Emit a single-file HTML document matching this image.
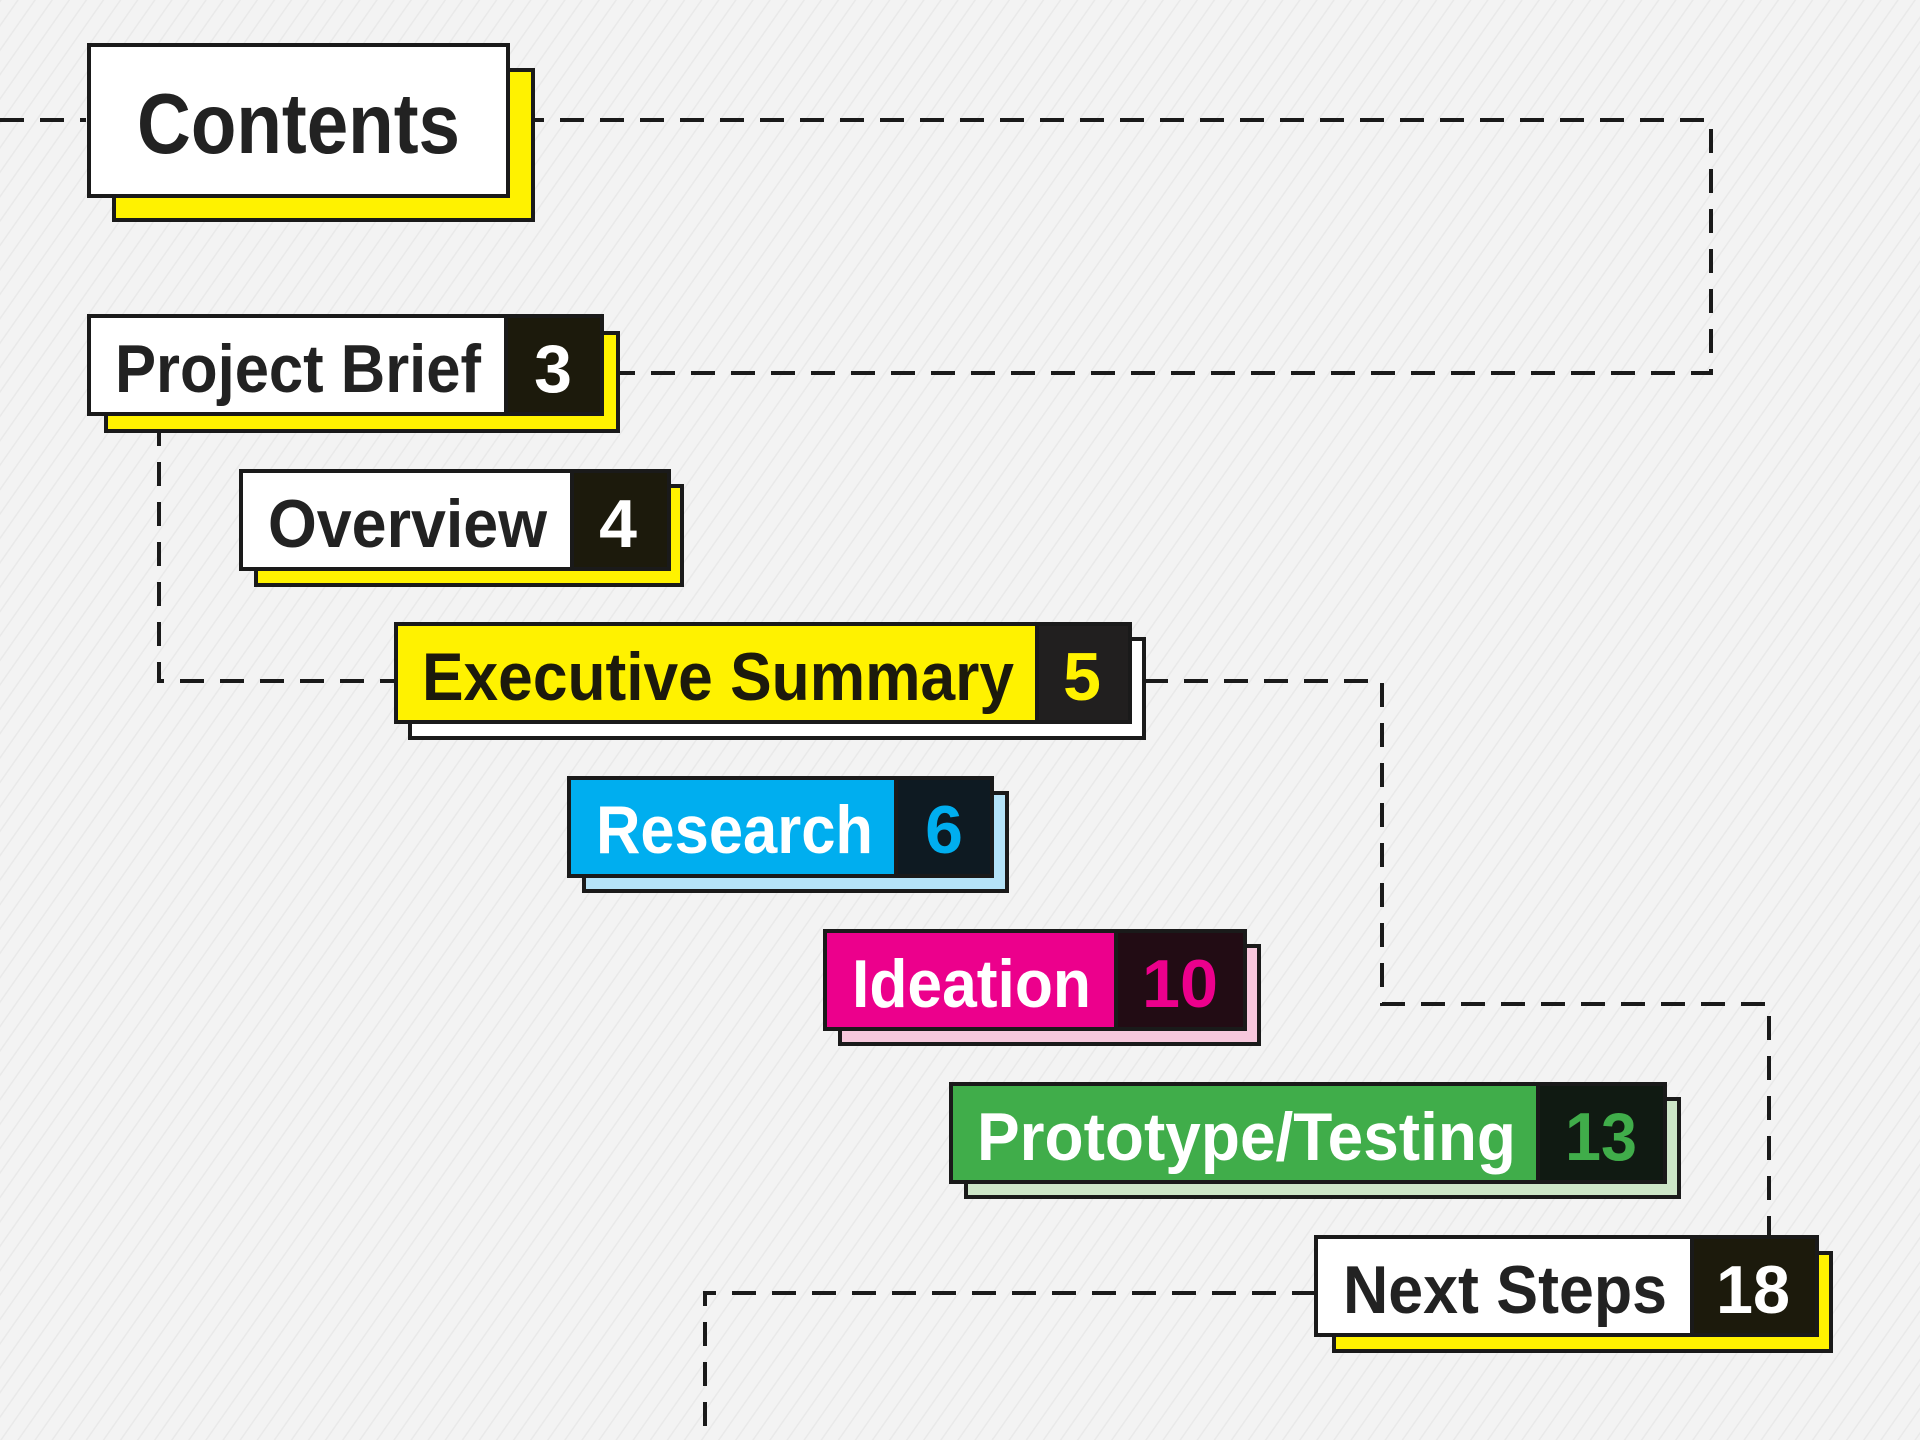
<!DOCTYPE html>
<html><head><meta charset="utf-8"><style>
html,body{margin:0;padding:0;width:1920px;height:1440px;overflow:hidden;background:#f3f3f3;}
svg{display:block}
text{font-family:"Liberation Sans",Arial,sans-serif;font-weight:bold;}
</style></head><body>
<svg width="1920" height="1440" viewBox="0 0 1920 1440" xmlns="http://www.w3.org/2000/svg">
<defs>
<pattern id="st" width="14" height="14" patternUnits="userSpaceOnUse" patternTransform="rotate(35)">
<rect width="14" height="14" fill="#f3f3f3"/><rect width="1.5" height="14" fill="#e9e9e9"/>
</pattern>
</defs>
<rect width="1920" height="1440" fill="url(#st)"/>
<g fill="none" stroke="#1a1a1a" stroke-width="4" stroke-dasharray="24 16">
<path d="M0 120 H86"/>
<path d="M520 120 H1711 V373 H618"/>
<path d="M159 422 V681 H396"/>
<path d="M1144 681 H1382 V1004 H1769 V1237"/>
<path d="M1316 1293 H705 V1440"/>
</g>
<g stroke="#1a1a1a" stroke-width="4">
<!-- Contents -->
<rect x="114" y="70" width="419" height="150" fill="#fff200"/>
<rect x="89" y="45" width="419" height="151" fill="#fff"/>
<!-- Project Brief -->
<rect x="106" y="333" width="512" height="98" fill="#fff200"/>
<rect x="89" y="316" width="513" height="98" fill="#fff"/>
<rect x="506" y="316" width="96" height="98" fill="#1c1a0c"/>
<!-- Overview -->
<rect x="256" y="486" width="426" height="99" fill="#fff200"/>
<rect x="241" y="471" width="428" height="98" fill="#fff"/>
<rect x="572" y="471" width="97" height="98" fill="#1c1a0c"/>
<!-- Exec -->
<rect x="410" y="639" width="734" height="99" fill="#fff"/>
<rect x="396" y="624" width="734" height="98" fill="#fff200"/>
<rect x="1037" y="624" width="93" height="98" fill="#211f1f"/>
<!-- Research -->
<rect x="584" y="793" width="423" height="98" fill="#b5e3f8"/>
<rect x="569" y="778" width="423" height="98" fill="#00aeef"/>
<rect x="896" y="778" width="96" height="98" fill="#0e1a22"/>
<!-- Ideation -->
<rect x="840" y="946" width="419" height="98" fill="#f7c8dd"/>
<rect x="825" y="931" width="420" height="98" fill="#ec008c"/>
<rect x="1116" y="931" width="129" height="98" fill="#220c14"/>
<!-- Prototype -->
<rect x="966" y="1099" width="713" height="98" fill="#cde6c8"/>
<rect x="951" y="1084" width="714" height="98" fill="#40ad4a"/>
<rect x="1538" y="1084" width="127" height="98" fill="#101a12"/>
<!-- Next Steps -->
<rect x="1334" y="1253" width="497" height="98" fill="#fff200"/>
<rect x="1316" y="1237" width="501" height="98" fill="#fff"/>
<rect x="1692" y="1237" width="125" height="98" fill="#1c1a0c"/>
</g>
<g fill="#222">
<text x="137" y="153" font-size="85" textLength="323" lengthAdjust="spacingAndGlyphs">Contents</text>
<text x="115" y="392" font-size="68" textLength="366" lengthAdjust="spacingAndGlyphs">Project Brief</text>
<text x="553" y="392" font-size="68" text-anchor="middle" fill="#fff">3</text>
<text x="268" y="547" font-size="68" textLength="279" lengthAdjust="spacingAndGlyphs">Overview</text>
<text x="618" y="547" font-size="68" text-anchor="middle" fill="#fff">4</text>
<text x="422" y="700" font-size="68" textLength="592" lengthAdjust="spacingAndGlyphs" fill="#1c1a0c">Executive Summary</text>
<text x="1082" y="700" font-size="68" text-anchor="middle" fill="#fff200">5</text>
<text x="596" y="853" font-size="68" textLength="277" lengthAdjust="spacingAndGlyphs" fill="#fff">Research</text>
<text x="944" y="853" font-size="68" text-anchor="middle" fill="#00aeef">6</text>
<text x="852" y="1007" font-size="68" textLength="239" lengthAdjust="spacingAndGlyphs" fill="#fff">Ideation</text>
<text x="1180" y="1007" font-size="68" text-anchor="middle" fill="#ec008c" textLength="76" lengthAdjust="spacingAndGlyphs">10</text>
<text x="977" y="1160" font-size="68" textLength="539" lengthAdjust="spacingAndGlyphs" fill="#fff">Prototype/Testing</text>
<text x="1601" y="1160" font-size="68" text-anchor="middle" fill="#40ad4a" textLength="72" lengthAdjust="spacingAndGlyphs">13</text>
<text x="1343" y="1313" font-size="68" textLength="324" lengthAdjust="spacingAndGlyphs">Next Steps</text>
<text x="1753" y="1313" font-size="68" text-anchor="middle" fill="#fff" textLength="74" lengthAdjust="spacingAndGlyphs">18</text>
</g>
</svg>
</body></html>
